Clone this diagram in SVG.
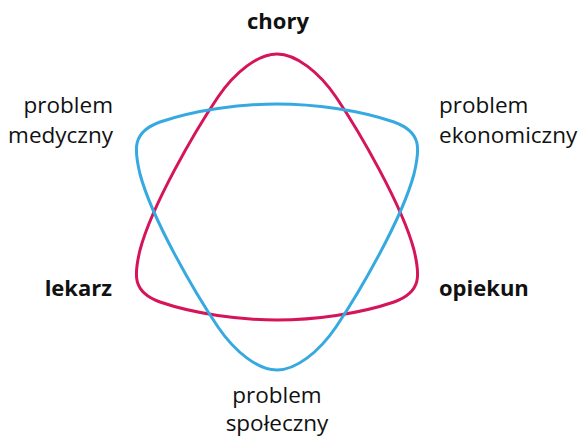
<svg xmlns="http://www.w3.org/2000/svg" width="578" height="439" viewBox="0 0 578 439">
<style>
.shape{fill:none;stroke-width:3;stroke-linejoin:round}
.red{stroke:#d5145a}
.blue{stroke:#36a9e1}
text{font-family:"Open Sans","Liberation Sans",sans-serif;fill:#111}
.b{font-weight:bold;font-size:22px}
.r{font-size:22.5px}
</style>
<rect width="578" height="439" fill="#fff"/>
<g id="connectors">
<path id="red-triangle" class="shape red" d="M277,54 C258,54 235,72 218,97 C195,131 152,205 140,250 C134,275 132,292 160,302 C195,314 240,320 277,320 C314,320 359,314 394,302 C422,292 420,275 414,250 C402,205 359,131 336,97 C319,72 296,54 277,54 Z"/>
<path id="blue-triangle" class="shape blue" d="M277,370 C258,370 235,352 218,327 C195,293 152,219 140,174 C134,149 132,132 160,122 C195,110 240,104 277,104 C314,104 359,110 394,122 C422,132 420,149 414,174 C402,219 359,293 336,327 C319,352 296,370 277,370 Z"/>
</g>
<g id="node-chory"><text class="b" x="278" y="29" text-anchor="middle">chory</text></g>
<g id="node-medyczny"><text class="r" x="113" y="113" text-anchor="end">problem</text><text class="r" x="113" y="143" text-anchor="end">medyczny</text></g>
<g id="node-ekonomiczny"><text class="r" x="439" y="113">problem</text><text class="r" x="439" y="143">ekonomiczny</text></g>
<g id="node-lekarz"><text class="b" x="112" y="296" text-anchor="end">lekarz</text></g>
<g id="node-opiekun"><text class="b" x="439" y="296">opiekun</text></g>
<g id="node-spoleczny"><text class="r" x="277" y="403" text-anchor="middle">problem</text><text class="r" x="277" y="431" text-anchor="middle">społeczny</text></g>
</svg>
